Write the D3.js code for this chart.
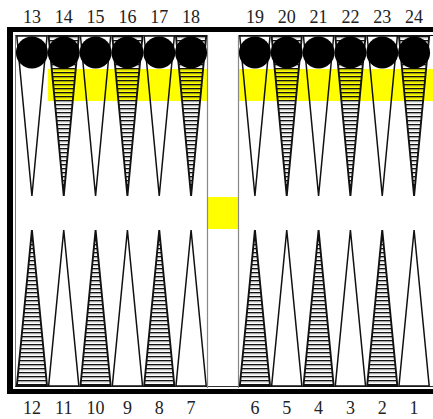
<!DOCTYPE html>
<html><head><meta charset="utf-8">
<script src="https://cdn.jsdelivr.net/npm/d3@7"></script>
<style>html,body{margin:0;padding:0;background:#fff;}svg{display:block;}</style>
</head><body>
<script>
// ---- data ----
const topLeft = [13, 14, 15, 16, 17, 18];
const topRight = [19, 20, 21, 22, 23, 24];
const bottomLeft = [12, 11, 10, 9, 8, 7];
const bottomRight = [6, 5, 4, 3, 2, 1];
const hatchedPoints = [14, 16, 18, 20, 22, 24, 12, 10, 8, 6, 4, 2];
const checkerPoints = [13, 14, 15, 16, 17, 18, 19, 20, 21, 22, 23, 24];
const highlightTop = [14, 15, 16, 17, 18, 19, 20, 21, 22, 23, 24];
const highlightBar = ["bar"];

const W = 433, H = 419;
const svg = d3.select("body").append("svg").attr("width", W).attr("height", H);
const defs = svg.append("defs");
const pat = defs.append("pattern").attr("id", "hatch").attr("patternUnits", "userSpaceOnUse")
  .attr("width", 8).attr("height", 4);
pat.append("rect").attr("x", 0).attr("y", 0).attr("width", 8).attr("height", 1).attr("fill", "#111");
pat.append("rect").attr("x", 0).attr("y", 1).attr("width", 8).attr("height", 1.3).attr("fill", "rgba(0,0,0,0.35)");

// geometry
const boardTop = 35, boardBot = 387;
const xLeft = d3.scaleBand().domain(topLeft).range([16, 207]).paddingInner(0);
const xRight = d3.scaleBand().domain(topRight).range([239, 430]).paddingInner(0);
const xBL = d3.scaleBand().domain(bottomLeft).range([16, 207]);
const xBR = d3.scaleBand().domain(bottomRight).range([239, 430]);
const topTip = 196, botTip = 230;

function xPos(p) {
  if (topLeft.includes(p)) return xLeft(p);
  if (topRight.includes(p)) return xRight(p);
  if (bottomLeft.includes(p)) return xBL(p);
  return xBR(p);
}
const bw = xLeft.bandwidth();

// highlight (yellow)
const hl = svg.append("g");
const hlGroups = [highlightTop.filter(p => topLeft.includes(p)), highlightTop.filter(p => topRight.includes(p))];
hlGroups.forEach(g => {
  const x0 = d3.min(g, p => xPos(p));
  const x1 = d3.max(g, p => xPos(p)) + bw;
  hl.append("rect").attr("x", x0).attr("y", 69).attr("width", x1 - x0 + (g.includes(24) ? 3 : 0)).attr("height", 32).attr("fill", "#ffff00");
});
highlightBar.forEach(() => {
  hl.append("rect").attr("x", 208).attr("y", 197).attr("width", 30).attr("height", 32).attr("fill", "#ffff00");
});

// frame
const fr = svg.append("g");
fr.append("rect").attr("x", 7).attr("y", 27).attr("width", W - 7).attr("height", 5).attr("fill", "#000");
fr.append("rect").attr("x", 7).attr("y", 27).attr("width", 6).attr("height", 367).attr("fill", "#000");
fr.append("rect").attr("x", 7).attr("y", 389).attr("width", W - 7).attr("height", 5).attr("fill", "#000");
fr.append("line").attr("x1", 15.5).attr("x2", 15.5).attr("y1", 35).attr("y2", 387).attr("stroke", "#777").attr("stroke-width", 1);
fr.append("line").attr("x1", 15).attr("x2", 207).attr("y1", 35.5).attr("y2", 35.5).attr("stroke", "#555").attr("stroke-width", 1);
fr.append("line").attr("x1", 238).attr("x2", W).attr("y1", 35.5).attr("y2", 35.5).attr("stroke", "#000").attr("stroke-width", 1.2);
fr.append("line").attr("x1", 15).attr("x2", W).attr("y1", 386.5).attr("y2", 386.5).attr("stroke", "#333").attr("stroke-width", 1);
// bar
fr.append("line").attr("x1", 207.5).attr("x2", 207.5).attr("y1", 35).attr("y2", 388).attr("stroke", "#888").attr("stroke-width", 1.2);
fr.append("line").attr("x1", 238.5).attr("x2", 238.5).attr("y1", 35).attr("y2", 388).attr("stroke", "#888").attr("stroke-width", 1.2);

// points
const pts = svg.append("g");
function tri(p, isTop) {
  const x0 = xPos(p) + 0.8, x1 = xPos(p) + bw - 0.8, xm = xPos(p) + bw / 2;
  if (isTop) return `M${x0},${boardTop + 1}L${x1},${boardTop + 1}L${xm},${topTip}Z`;
  return `M${x0},${boardBot - 1}L${x1},${boardBot - 1}L${xm},${botTip}Z`;
}
[...topLeft, ...topRight].forEach(p => {
  pts.append("path").attr("d", tri(p, true))
    .attr("fill", hatchedPoints.includes(p) ? "url(#hatch)" : "none")
    .attr("stroke", "#111").attr("stroke-width", hatchedPoints.includes(p) ? 1.9 : 1.5).attr("stroke-linejoin", "miter");
});
[...bottomLeft, ...bottomRight].forEach(p => {
  pts.append("path").attr("d", tri(p, false))
    .attr("fill", hatchedPoints.includes(p) ? "url(#hatch)" : "none")
    .attr("stroke", "#111").attr("stroke-width", hatchedPoints.includes(p) ? 1.9 : 1.5).attr("stroke-linejoin", "miter");
});

// checkers
svg.append("g").selectAll("circle").data(checkerPoints).join("circle")
  .attr("cx", p => xPos(p) + bw / 2).attr("cy", 52.5).attr("r", 16).attr("fill", "#000");

// labels
const lab = svg.append("g").attr("font-family", "'Liberation Serif','DejaVu Serif',serif")
  .attr("font-size", 18).attr("fill", "#222").attr("text-anchor", "middle");
[...topLeft, ...topRight].forEach(p => {
  lab.append("text").attr("x", xPos(p) + bw / 2).attr("y", 23).text(p);
});
[...bottomLeft, ...bottomRight].forEach(p => {
  lab.append("text").attr("x", xPos(p) + bw / 2).attr("y", 414).text(p);
});
</script>
</body></html>
